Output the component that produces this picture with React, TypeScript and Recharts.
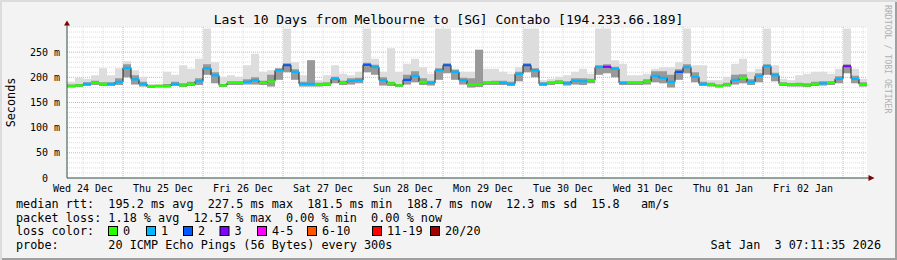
import React from 'react';
import { ComposedChart, Area, Line, XAxis, YAxis, CartesianGrid, ReferenceDot } from 'recharts';

const FONT = "'DejaVu Sans Mono', monospace";

// one sample every 2.4 h, 100 samples = 10 days, starting Wed 24 Dec 07:11:35
const STEP_H = 2.4;
const NOON_WED = 4.807; // hours from start to Wed 24 Dec 12:00

const dayLabels = ['Wed 24 Dec', 'Thu 25 Dec', 'Fri 26 Dec', 'Sat 27 Dec', 'Sun 28 Dec', 'Mon 29 Dec', 'Tue 30 Dec', 'Wed 31 Dec', 'Thu 01 Jan', 'Fri 02 Jan'];
const yTicks = [0, 50, 100, 150, 200, 250];

// median rtt in ms
const medianRtt = [
  183, 184, 187, 189, 187, 187, 191, 219, 196, 187, 182, 183, 183, 187, 184, 187, 192, 218, 204, 184, 189, 189, 191, 194, 189,
  192, 214, 224, 211, 187, 187, 186, 187, 197, 189, 193, 194, 225, 220, 194, 188, 184, 195, 203, 191, 189, 214, 224, 211, 194,
  186, 186, 189, 189, 189, 187, 207, 224, 214, 187, 189, 191, 188, 193, 192, 194, 220, 221, 217, 189, 189, 189, 192, 203, 199,
  191, 211, 220, 201, 187, 186, 183, 186, 195, 199, 191, 203, 222, 204, 187, 186, 186, 184, 187, 188, 189, 197, 222, 197, 186,
];
// lost pings out of 20
const lossLevel = [
  0, 0, 1, 0, 0, 1, 1, 1, 1, 1, 0, 0, 0, 1, 0, 0, 1, 1, 1, 0, 0, 0, 1, 1, 0,
  0, 1, 2, 1, 1, 1, 0, 0, 1, 0, 1, 1, 2, 1, 1, 0, 0, 2, 1, 0, 1, 1, 2, 1, 1,
  0, 0, 0, 0, 1, 1, 1, 2, 1, 1, 0, 0, 1, 1, 1, 0, 1, 3, 1, 1, 0, 0, 0, 1, 1,
  1, 2, 1, 1, 1, 0, 0, 0, 1, 0, 1, 1, 1, 1, 0, 0, 0, 0, 0, 1, 0, 1, 3, 1, 0,
];
const smokeLo = [
  180, 181, 183, 185, 183, 183, 185, 200, 186, 182, 179, 180, 180, 183, 181, 183, 185, 205, 188, 181, 185, 185, 186, 186, 185,
  182, 195, 210, 195, 182, 182, 182, 183, 188, 185, 186, 188, 210, 205, 184, 183, 181, 186, 190, 185, 184, 195, 208, 195, 186,
  180, 181, 185, 185, 185, 183, 192, 210, 200, 183, 185, 187, 184, 186, 185, 188, 205, 208, 200, 185, 185, 185, 186, 190, 188,
  180, 195, 208, 190, 183, 182, 180, 182, 186, 188, 185, 190, 205, 192, 183, 182, 182, 181, 183, 184, 185, 188, 208, 188, 182,
];
const smokeMid = [
  186, 187, 190, 193, 190, 190, 198, 226, 204, 191, 184, 185, 187, 191, 188, 191, 198, 226, 210, 187, 192, 192, 196, 200, 193,
  205, 218, 228, 216, 191, 234, 189, 190, 201, 193, 198, 199, 229, 225, 200, 191, 187, 205, 212, 198, 193, 218, 228, 215, 199,
  198, 255, 192, 193, 193, 191, 211, 228, 218, 190, 192, 194, 192, 198, 198, 197, 224, 226, 221, 192, 192, 192, 196, 212, 212,
  205, 216, 226, 210, 191, 189, 186, 189, 205, 206, 196, 208, 226, 209, 190, 188, 189, 188, 191, 192, 192, 202, 226, 203, 190,
];
const smokeHi = [
  191, 199, 197, 204, 218, 204, 218, 232, 214, 201, 187, 187, 211, 205, 224, 217, 237, 297, 230, 201, 204, 201, 224, 247, 211,
  214, 217, 297, 230, 204, 234, 194, 204, 224, 207, 204, 211, 297, 237, 211, 258, 211, 227, 237, 220, 207, 297, 297, 217, 211,
  211, 255, 217, 217, 211, 207, 220, 297, 297, 194, 197, 201, 204, 211, 217, 207, 297, 297, 234, 227, 204, 204, 207, 217, 220,
  220, 230, 297, 224, 224, 194, 194, 201, 227, 237, 211, 217, 297, 224, 197, 194, 204, 207, 211, 211, 207, 217, 297, 217, 197,
];

const lossColors = ['#26ff00', '#00b8ff', '#0059ff', '#7e00ff'];
const legendLabels = ['0', '1', '2', '3', '4-5', '6-10', '11-19', '20/20'];
const legendColors = ['#26ff00', '#00b8ff', '#0059ff', '#7e00ff', '#ff00ff', '#ff5500', '#ff0000', '#a00000'];
const legendX = [108, 146, 183, 219.5, 257, 307, 372, 430];

const statLines = [
  'median rtt:  195.2 ms avg  227.5 ms max  181.5 ms min  188.7 ms now  12.3 ms sd  15.8   am/s',
  'packet loss: 1.18 % avg  12.57 % max  0.00 % min  0.00 % now',
  'loss color:',
  'probe:       20 ICMP Echo Pings (56 Bytes) every 300s',
];

// step shape: every sample becomes a start row and an end row
const rows = medianRtt.flatMap((m, i) => {
  const v = { med: m, loss: lossLevel[i], lo: smokeLo[i], mid: smokeMid[i], hi: smokeHi[i] };
  return [{ x: i * STEP_H, ...v }, { x: (i + 1) * STEP_H, ...v }];
});

const noonTicks = dayLabels.map((_, k) => NOON_WED + 24 * k);
const minorV: number[] = [];
const majorV: number[] = [];
for (let k = 0; NOON_WED + 6 * k < 240; k++) {
  if ((k - 2) % 4 === 0) majorV.push(NOON_WED + 6 * k);
  else minorV.push(NOON_WED + 6 * k);
}
const minorH: number[] = [];
const majorH: number[] = [];
for (let v = 10; v <= 300; v += 10) {
  if (v % 50 === 0 && v < 300) majorH.push(v);
  else minorH.push(v);
}

const AXIS = '#2c4d43';
const ARROW = '#7f0000';

const XTick = (p: any) => {
  const idx = Math.round((p.payload.value - NOON_WED) / 24);
  return (
    <text x={p.x} y={p.y + 13.5} textAnchor="middle" fontFamily={FONT} fontSize={10} fill="#000">
      {dayLabels[idx]}
    </text>
  );
};

const YTick = (p: any) => {
  const v = p.payload.value;
  return (
    <text x={v === 0 ? p.x - 19 : p.x - 7} y={p.y + 3.6} textAnchor="end" fontFamily={FONT} fontSize={10} fill="#000">
      {v === 0 ? '0' : `${v} m`}
    </text>
  );
};

export default function App() {
  return (
    <div style={{ position: 'absolute', left: 0, top: 0, width: 897, height: 260, background: '#f3f3f3', overflow: 'hidden', boxShadow: 'inset 2px 2px 0 #dcdcdc, inset -2px -2px 0 #a0a0a0' }}>
      <ComposedChart width={897} height={260} data={rows} margin={{ top: 27, right: 30, bottom: 62, left: 0 }}>
        <CartesianGrid horizontalValues={minorH} verticalValues={minorV} stroke="#dcdcdc" strokeDasharray="1 1" fill="#ffffff" fillOpacity={1} />
        <CartesianGrid horizontalValues={majorH} verticalValues={majorV} stroke="#f4a3a3" strokeDasharray="1 1" />
        <XAxis type="number" dataKey="x" domain={[0, 240]} ticks={noonTicks} interval={0} tickLine={false} tickSize={0} tickMargin={0} height={20} axisLine={{ stroke: AXIS }} tick={XTick} />
        <YAxis type="number" domain={[0, 300]} ticks={yTicks} interval={0} tickLine={false} tickSize={0} tickMargin={0} width={67} axisLine={{ stroke: AXIS }} tick={YTick} />
        <Area dataKey={(r: any) => [r.lo, r.hi]} type="linear" stroke="none" fill="#dddddd" fillOpacity={1} isAnimationActive={false} zIndex={100} />
        <Area dataKey={(r: any) => [r.lo, r.mid]} type="linear" stroke="none" fill="#999999" fillOpacity={1} isAnimationActive={false} zIndex={101} />
        <Line dataKey="med" type="linear" stroke="#202020" strokeWidth={1} dot={false} activeDot={false} isAnimationActive={false} zIndex={102} />
        {lossColors.map((c, lvl) => (
          <Area
            key={c}
            dataKey={(r: any) => (r.loss === lvl ? [r.med - 2.2, r.med + 2.2] : null)}
            type="linear"
            stroke="none"
            fill={c}
            fillOpacity={1}
            isAnimationActive={false}
            zIndex={103}
          />
        ))}
        <ReferenceDot x={240} y={0} ifOverflow="visible" zIndex={600} shape={(p: any) => (
          <g>
            <line x1={p.cx} y1={p.cy} x2={p.cx + 2} y2={p.cy} stroke={AXIS} />
            <polygon points={`${p.cx + 1.5},${p.cy - 3} ${p.cx + 7.5},${p.cy} ${p.cx + 1.5},${p.cy + 3}`} fill={ARROW} />
          </g>
        )} />
        <ReferenceDot x={0} y={300} ifOverflow="visible" zIndex={600} shape={(p: any) => (
          <g>
            <line x1={p.cx} y1={p.cy} x2={p.cx} y2={p.cy - 2} stroke={AXIS} />
            <polygon points={`${p.cx - 3},${p.cy - 1.5} ${p.cx},${p.cy - 6.5} ${p.cx + 3},${p.cy - 1.5}`} fill={ARROW} />
          </g>
        )} />
      </ComposedChart>
      <svg width={897} height={260} style={{ position: 'absolute', left: 0, top: 0, pointerEvents: 'none' }}>
        <text x={448.5} y={24} textAnchor="middle" fontFamily={FONT} fontSize={13} fill="#000">
          Last 10 Days from Melbourne to [SG] Contabo [194.233.66.189]
        </text>
        <text x={15} y={102.5} transform="rotate(-90 15 102.5)" textAnchor="middle" fontFamily={FONT} fontSize={11.8} fill="#000">
          Seconds
        </text>
        <text x={885} y={5} transform="rotate(90 885 5)" fontFamily={FONT} fontSize={8.2} fill="#b0b0b0">
          RRDTOOL / TOBI OETIKER
        </text>
        {statLines.map((s, i) => (
          <text key={i} x={16} y={208 + i * 13.7} fontFamily={FONT} fontSize={11.8} fill="#000" style={{ whiteSpace: 'pre' }}>
            {s}
          </text>
        ))}
        {legendLabels.map((l, i) => (
          <g key={l}>
            <rect x={legendX[i] + 0.5} y={226.5} width={9} height={9} fill={legendColors[i]} stroke="#000" strokeWidth={1} />
            <text x={legendX[i] + 15} y={235.4} fontFamily={FONT} fontSize={11.8} fill="#000">{l}</text>
          </g>
        ))}
        <text x={881} y={249.1} textAnchor="end" fontFamily={FONT} fontSize={11.8} fill="#000" style={{ whiteSpace: 'pre' }}>
          Sat Jan  3 07:11:35 2026
        </text>
      </svg>
    </div>
  );
}
